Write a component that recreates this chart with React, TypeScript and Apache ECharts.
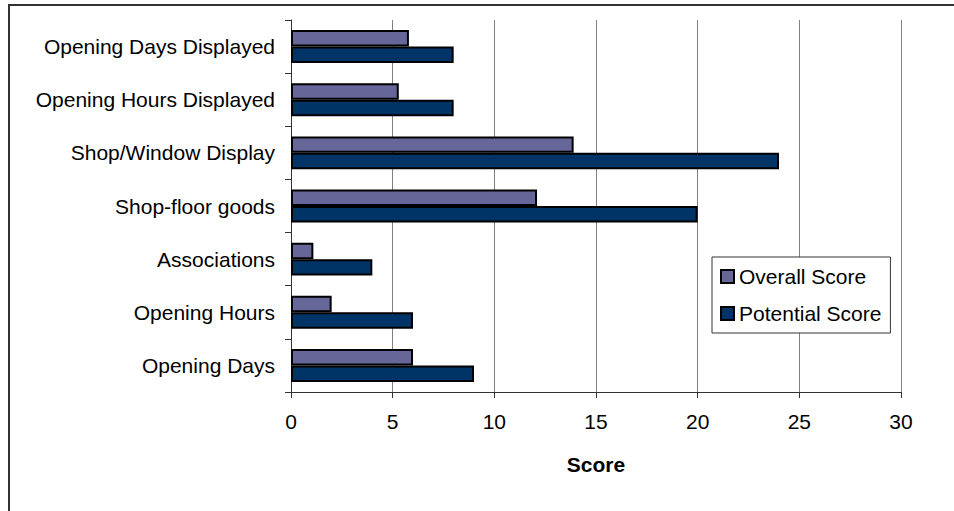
import React, { useEffect, useRef } from "react";
import * as echarts from "echarts";

const categories = [
  "Opening Days Displayed",
  "Opening Hours Displayed",
  "Shop/Window Display",
  "Shop-floor goods",
  "Associations",
  "Opening Hours",
  "Opening Days",
];
const overallScore = [5.8, 5.3, 13.9, 12.1, 1.1, 2.0, 6.0];
const potentialScore = [8, 8, 24, 20, 4, 6, 9];
const seriesNames = ["Overall Score", "Potential Score"];
const axisTitle = "Score";

const FONT = "'Liberation Sans', Arial, sans-serif";

export default function App() {
  const ref = useRef<HTMLDivElement>(null);
  useEffect(() => {
    document.body.style.margin = "0";
    const chart = echarts.init(ref.current!, null, { renderer: "svg" });
    chart.setOption({
      animation: false,
      backgroundColor: "#ffffff",
      textStyle: { fontFamily: FONT, color: "#000" },
      grid: { left: 291, right: 53, top: 20, bottom: 119, containLabel: false },
      graphic: [
        {
          type: "rect",
          shape: { x: 9, y: 5, width: 2000, height: 2000 },
          style: { fill: "none", stroke: "#333", lineWidth: 2 },
          silent: true,
        },
      ],
      legend: {
        left: 712,
        top: 257,
        orient: "vertical",
        data: seriesNames,
        icon: "rect",
        itemWidth: 13,
        itemHeight: 13,
        itemGap: 16,
        itemTextGap: 8,
        padding: [9, 9, 9, 8],
        borderColor: "#333",
        borderWidth: 1,
        backgroundColor: "#fff",
        textStyle: { fontFamily: FONT, fontSize: 21, color: "#000" },
      },
      xAxis: {
        type: "value",
        min: 0,
        max: 30,
        interval: 5,
        name: axisTitle,
        nameLocation: "middle",
        nameGap: 62,
        nameTextStyle: { fontFamily: FONT, fontSize: 21, fontWeight: "bold", color: "#000" },
        axisLine: { show: true, lineStyle: { color: "#333", width: 1 } },
        axisTick: { show: true, length: 6, lineStyle: { color: "#333" } },
        axisLabel: { fontFamily: FONT, fontSize: 21, color: "#000", margin: 19 },
        splitLine: { show: true, lineStyle: { color: "#808080", width: 1 } },
      },
      yAxis: {
        type: "category",
        data: categories,
        inverse: true,
        axisLine: { show: true, lineStyle: { color: "#333", width: 1 } },
        axisTick: { show: true, length: 6, lineStyle: { color: "#333" } },
        axisLabel: { fontFamily: FONT, fontSize: 21, color: "#000", margin: 16 },
        splitLine: { show: false },
      },
      series: [
        {
          name: seriesNames[0],
          type: "bar",
          data: overallScore,
          barGap: "0%",
          barCategoryGap: "38%",
          itemStyle: { color: "#666699", borderColor: "#000", borderWidth: 2 },
        },
        {
          name: seriesNames[1],
          type: "bar",
          data: potentialScore,
          barGap: "0%",
          barCategoryGap: "38%",
          itemStyle: { color: "#003366", borderColor: "#000", borderWidth: 2 },
        },
      ],
    });
    return () => chart.dispose();
  }, []);
  return <div ref={ref} style={{ width: 954, height: 511 }} />;
}
